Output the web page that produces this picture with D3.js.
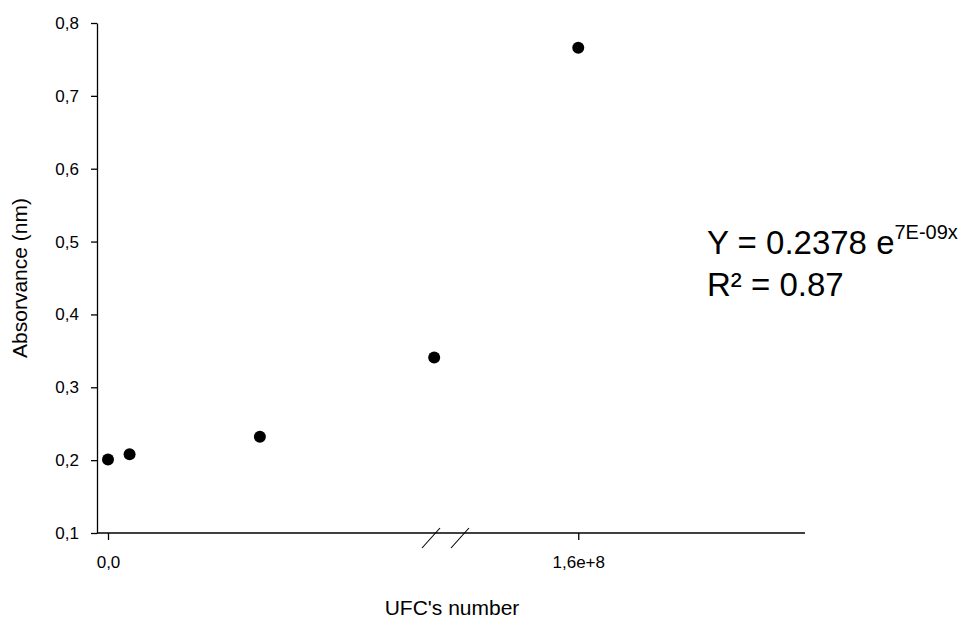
<!DOCTYPE html>
<html>
<head>
<meta charset="utf-8">
<script src="https://cdn.jsdelivr.net/npm/d3@7/dist/d3.min.js"></script>
<style>
  html, body { margin: 0; padding: 0; background: #fff; }
  svg text { font-family: "Liberation Sans", Arial, sans-serif; fill: #000; }
</style>
</head>
<body>
<svg id="chart" width="962" height="619"></svg>
<script>
// UFC counts and measured absorbance
const ufc = [0, 2.6e6, 1.83e7, 3.93e7, 1.6e8];
const absorbance = [0.201, 0.208, 0.232, 0.341, 0.766];

const yTicks = [0.1, 0.2, 0.3, 0.4, 0.5, 0.6, 0.7, 0.8];
const xTicks = [0, 1.6e8];
const xTickLabels = ["0,0", "1,6e+8"];

// broken x axis: low segment and high segment share the same px/unit
const xBreak = [4e7, 1.448e8];
const xMax = 1.873e8;

const svg = d3.select("#chart");

const x = d3.scaleLinear()
  .domain([0, xBreak[0], xBreak[1], xMax])
  .range([108, 440, 452, 805]);

const y = d3.scaleLinear()
  .domain([0.1, 0.8])
  .range([533, 23]);

const axisLeftX = 97;
const fmtComma = d => d3.format(".1f")(d).replace(".", ",");

// y axis
const yAxis = svg.append("g")
  .attr("transform", `translate(${axisLeftX},0)`)
  .call(d3.axisLeft(y).tickValues(yTicks).tickFormat(fmtComma).tickSize(6).tickPadding(12).tickSizeOuter(0));
yAxis.select(".domain").attr("stroke", "#000").attr("stroke-width", 1.3);
yAxis.selectAll(".tick line").attr("stroke", "#000").attr("stroke-width", 1.3);
yAxis.selectAll(".tick text").attr("font-size", 17).attr("font-family", "Liberation Sans, Arial, sans-serif");

// x axis baseline drawn through the break
svg.append("line")
  .attr("x1", axisLeftX).attr("x2", x(xMax))
  .attr("y1", y(0.1)).attr("y2", y(0.1))
  .attr("stroke", "#000").attr("stroke-width", 1.3);

const xAxis = svg.append("g")
  .attr("transform", `translate(0,${y(0.1)})`)
  .call(d3.axisBottom(x).tickValues(xTicks).tickFormat((d, i) => xTickLabels[i]).tickSize(7).tickPadding(16).tickSizeOuter(0));
xAxis.select(".domain").remove();
xAxis.selectAll(".tick line").attr("stroke", "#000").attr("stroke-width", 1.3);
xAxis.selectAll(".tick text").attr("font-size", 17).attr("font-family", "Liberation Sans, Arial, sans-serif");

// break marks
const breakMid = [(x(xBreak[0]) + x(xBreak[1])) / 2 - 15, (x(xBreak[0]) + x(xBreak[1])) / 2 + 14];
svg.selectAll("line.brk").data(breakMid).join("line")
  .attr("class", "brk")
  .attr("x1", d => d - 9).attr("y1", y(0.1) + 15)
  .attr("x2", d => d + 9).attr("y2", y(0.1) - 5)
  .attr("stroke", "#000").attr("stroke-width", 1.1);

// data points
svg.selectAll("circle.pt").data(ufc.map((u, i) => [u, absorbance[i]])).join("circle")
  .attr("class", "pt")
  .attr("cx", d => x(d[0]))
  .attr("cy", d => y(d[1]))
  .attr("r", 6)
  .attr("fill", "#000");

// axis titles
svg.append("text")
  .attr("x", 452).attr("y", 615)
  .attr("text-anchor", "middle")
  .attr("font-size", 21)
  .text("UFC's number");

svg.append("text")
  .attr("transform", "translate(27,278) rotate(-90)")
  .attr("text-anchor", "middle")
  .attr("font-size", 21)
  .text("Absorvance (nm)");

// fitted equation
const eq = svg.append("text").attr("x", 707).attr("y", 254).attr("font-size", 33);
eq.append("tspan").text("Y = 0.2378 e");
eq.append("tspan").attr("font-size", 20).attr("dy", -15).text("7E-09x");

svg.append("text")
  .attr("x", 707).attr("y", 296)
  .attr("font-size", 33)
  .text("R² = 0.87");
</script>
</body>
</html>
